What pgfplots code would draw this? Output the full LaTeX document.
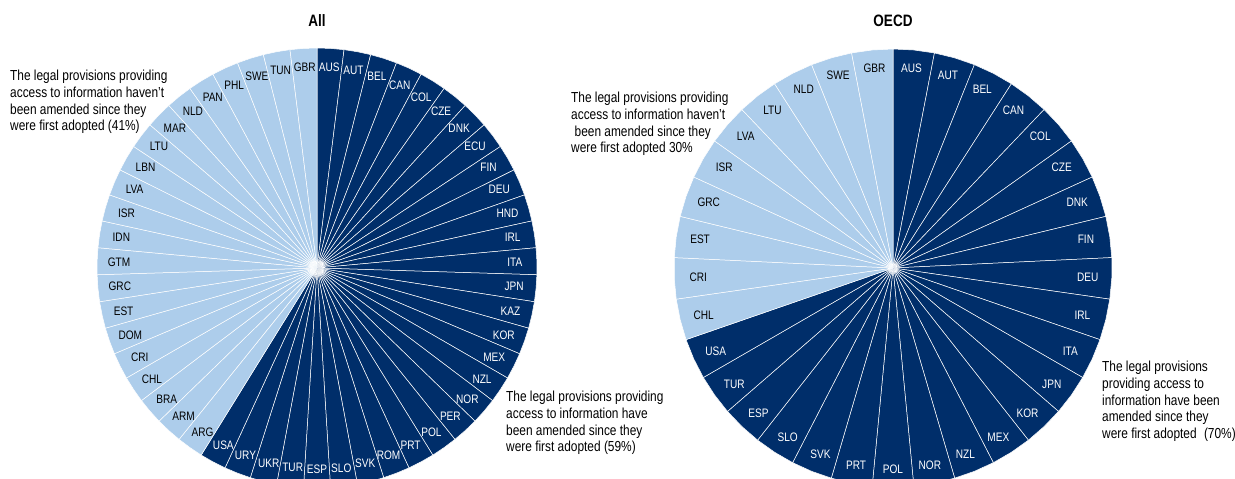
\documentclass[border=0pt]{standalone}
\usepackage{pgfplots}
\pgfplotsset{compat=1.18}
\usepackage{fontspec}
\setmainfont{Liberation Sans}[FakeStretch=0.82]
\definecolor{dkblue}{RGB}{0,46,106}
\definecolor{ltblue}{RGB}{173,205,235}
\newcommand\labfont{\fontsize{12.3}{14}\selectfont}
\newcommand\notefont{\fontsize{14.5}{16.7}\selectfont}
\newcommand\titlefont{\fontsize{16.5}{19}\selectfont\bfseries}
\newcounter{slice}
% #1 number of slices, #2 fill, #3 text colour, #4 label rx, #5 label ry, #6 list of countries (one unit each)
\newcommand\pieslices[6]{%
  \pgfplotsforeachungrouped \lab in {#6}{%
    \pgfmathsetmacro\st{360/#1}%
    \pgfmathsetmacro\a{90-\arabic{slice}*\st}%
    \pgfmathsetmacro\m{90-(\arabic{slice}+0.5)*\st}%
    \pgfmathsetmacro\b{90-(\arabic{slice}+1)*\st}%
    \pgfmathsetmacro\lx{#4*cos(\m)}%
    \pgfmathsetmacro\ly{#5*sin(\m)}%
    \edef\tmp{\noexpand\addplot[data cs=polar, fill=#2, draw=white, line width=0.5pt, mark=none] coordinates {(0,0) (\a,1) (\m,1) (\b,1) (0,0)};%
      \noexpand\node[text=#3, font=\noexpand\labfont, inner sep=0pt] at (axis cs:\lx,\ly) {\lab};}%
    \tmp
    \stepcounter{slice}%
  }%
}
\begin{document}
\begin{tikzpicture}[x=1pt,y=1pt]
\useasboundingbox (0,0) rectangle (1235,-479);
\clip (0,0) rectangle (1235,-479);
% ---------------- All ----------------
\begin{axis}[at={(317pt,-268pt)}, anchor=center, scale only axis, width=440pt, height=440pt,
  xmin=-1, xmax=1, ymin=-1, ymax=1, hide axis, clip=false]
\setcounter{slice}{0}
\pieslices{51}{dkblue}{white}{0.90}{0.915}{AUS,AUT,BEL,CAN,COL,CZE,DNK,ECU,FIN,DEU,HND,IRL,ITA,JPN,KAZ,KOR,MEX,NZL,NOR,PER,POL,PRT,ROM,SVK,SLO,ESP,TUR,UKR,URY,USA}
\pieslices{51}{ltblue}{black}{0.90}{0.915}{ARG,ARM,BRA,CHL,CRI,DOM,EST,GRC,GTM,IDN,ISR,LVA,LBN,LTU,MAR,NLD,PAN,PHL,SWE,TUN,GBR}
\end{axis}
% ---------------- OECD ----------------
\begin{axis}[at={(893pt,-268pt)}, anchor=center, scale only axis, width=438pt, height=438pt,
  xmin=-1, xmax=1, ymin=-1, ymax=1, hide axis, clip=false]
\setcounter{slice}{0}
\pieslices{33}{dkblue}{white}{0.89}{0.918}{AUS,AUT,BEL,CAN,COL,CZE,DNK,FIN,DEU,IRL,ITA,JPN,KOR,MEX,NZL,NOR,POL,PRT,SVK,SLO,ESP,TUR,USA}
\pieslices{33}{ltblue}{black}{0.89}{0.918}{CHL,CRI,EST,GRC,ISR,LVA,LTU,NLD,SWE,GBR}
\end{axis}
% ---------------- titles and notes ----------------
\node[font=\titlefont, anchor=base, inner sep=0pt] at (317,-27) {All};
\node[font=\titlefont, anchor=base, inner sep=0pt] at (893,-27) {OECD};
\node[font=\notefont, align=left, anchor=north west, inner sep=0pt] at (10,-70)
  {The legal provisions providing\\access to information haven't\\been amended since they\\were first adopted (41\%)};
\node[font=\notefont, align=left, anchor=north west, inner sep=0pt] at (506,-391)
  {The legal provisions providing\\access to information have\\been amended since they\\were first adopted (59\%)};
\node[font=\notefont, align=left, anchor=north west, inner sep=0pt] at (571,-92)
  {The legal provisions providing\\access to information haven't\\\hspace*{3.5pt}been amended since they\\were first adopted 30\%};
\node[font=\notefont, align=left, anchor=north west, inner sep=0pt] at (1102,-361)
  {The legal provisions\\providing access to\\information have been\\amended since they\\were first adopted\hspace*{4pt} (70\%)};
\end{tikzpicture}
\end{document}
